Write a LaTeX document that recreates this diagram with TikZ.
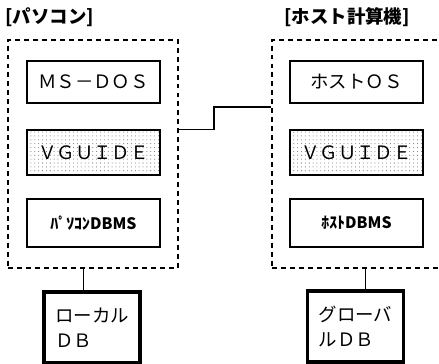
\documentclass[tikz,border=0pt]{standalone}
\usepackage{fontspec}
\usepackage{tikz}
\usetikzlibrary{calc,patterns.meta}
\newfontfamily\jpfont{Noto Sans CJK JP}
\newcommand\boxfont{\jpfont\fontsize{10.5}{14}\selectfont}
\tikzset{
  machine/.style={draw,dash pattern={on 2.8pt off 2.3pt},line width=0.6pt,
    minimum width=3.4cm,minimum height=4.56cm,inner sep=0pt},
  osbox/.style={draw,line width=1pt,minimum width=2.66cm,inner sep=0pt,font=\boxfont},
  guidebox/.style={osbox,pattern={Dots[distance=2.2pt,radius=0.3pt]},pattern color=black!55},
  dbmsbox/.style={osbox,font=\jpfont\bfseries\fontsize{9}{11}\selectfont},
  dbstore/.style={draw,line width=2pt,minimum width=1.92cm,minimum height=1.42cm,
    align=left,font=\boxfont},
  heading/.style={font=\jpfont\bfseries\fontsize{10.5}{12}\selectfont,inner sep=0pt}
}
\begin{document}
\begin{tikzpicture}[x=0.02cm,y=-0.02cm]
  \useasboundingbox (0,0) rectangle (439,364);
  \clip (0,0) rectangle (439,364);
  % Personal computer side
  \node[heading,anchor=west] (pctitle) at (5,17) {[パソコン]};
  \node[machine] (pc) at (93,154) {};
  \node[osbox,minimum height=0.84cm] (pcos) at (93.5,82) {ＭＳ－ＤＯＳ};
  \node[guidebox,minimum height=0.9cm] (pcvg) at (93.5,152.5) {ＶＧＵＩＤＥ};
  \node[dbmsbox,minimum height=0.96cm] (pcdb) at (93.5,223) {ﾊﾟｿｺﾝDBMS};
  \node[dbstore] (ldb) at (92,327.5) {ローカル\\ＤＢ};
  % Host side
  \node[heading,anchor=west] (hosttitle) at (284,17) {[ホスト計算機]};
  \node[machine] (host) at (357,154) {};
  \node[osbox,minimum height=0.84cm] (hostos) at (356.5,82) {ホストＯＳ};
  \node[guidebox,minimum height=0.9cm] (hostvg) at (356.5,152.5) {ＶＧＵＩＤＥ};
  \node[dbmsbox,minimum height=0.96cm] (hostdb) at (356.5,223) {ﾎｽﾄDBMS};
  \node[dbstore] (gdb) at (355.5,326.5) {グローバ\\ルＤＢ};
  % connections
  \coordinate (ltop) at ($(ldb.north west)!0.41!(ldb.north east)$);
  \coordinate (gtop) at ($(gdb.north west)!0.6!(gdb.north east)$);
  \coordinate (kink) at (214,107);
  \draw[line width=0.6pt] (ltop) -- (ltop |- pc.south);
  \draw[line width=0.6pt] (gtop) -- (gtop |- host.south);
  \draw[line width=0.6pt] (pc.east |- pcvg.north) -| (kink) -- (kink -| host.west);
\end{tikzpicture}
\end{document}
